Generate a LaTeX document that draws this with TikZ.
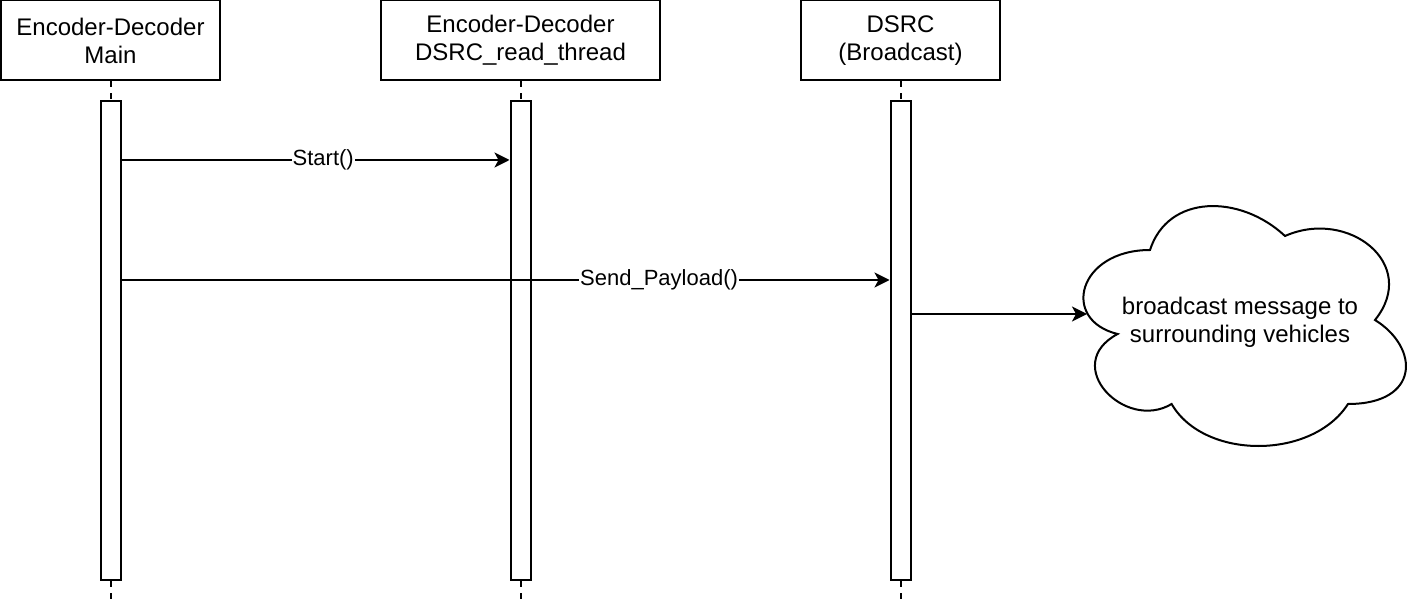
\documentclass[tikz,border=0pt]{standalone}
\usepackage{fontspec}
\setmainfont{Liberation Sans}
\usetikzlibrary{arrows.meta}
\tikzset{
  head/.style={draw,line width=2pt,fill=white,minimum height=80pt,align=center,
    font=\fontsize{24}{28}\selectfont},
  bar/.style={draw,line width=2pt,fill=white,minimum width=20pt,minimum height=479pt,inner sep=0pt},
  life/.style={line width=2pt,dash pattern=on 6pt off 6pt},
  msg/.style={line width=2pt,-{Stealth[length=15pt,width=15pt,inset=4pt]}},
  lbl/.style={fill=white,inner sep=1pt,font=\fontsize{22}{26}\selectfont},
  cloudtext/.style={align=center,font=\fontsize{24}{28}\selectfont}
}
\begin{document}
\begin{tikzpicture}[x=1pt,y=-1pt]
    \useasboundingbox (0,0) rectangle (1424,609);

    \node[head,minimum width=219pt] (main) at (110.5,40.5) {Encoder-Decoder\\Main};
    \node[head,minimum width=279pt] (reader) at (520.5,40.5) {Encoder-Decoder\\DSRC\_read\_thread};
    \node[head,minimum width=199pt] (dsrc) at (900.5,40.5) {DSRC\\(Broadcast)};

    \coordinate (mainend) at (110.5,601);
    \coordinate (readerend) at (520.5,601);
    \coordinate (dsrcend) at (900.5,601);

    \node[bar] (mainbar) at (110.5,340.5) {};
    \node[bar] (readerbar) at (520.5,340.5) {};
    \node[bar] (dsrcbar) at (900.5,340.5) {};

    \draw[life] (main) -- (mainbar);
    \draw[life] (mainbar) -- (mainend);
    \draw[life] (reader) -- (readerbar);
    \draw[life] (readerbar) -- (readerend);
    \draw[life] (dsrc) -- (dsrcbar);
    \draw[life] (dsrcbar) -- (dsrcend);

    \draw[line width=2pt,fill=white] (1150,250)
        .. controls (1078,250) and (1060,320) .. (1117.6,334)
        .. controls (1060,364.8) and (1124.8,432) .. (1171.6,404)
        .. controls (1204,460) and (1312,460) .. (1348,404)
        .. controls (1420,404) and (1420,348) .. (1375,320)
        .. controls (1420,264) and (1348,208) .. (1285,236)
        .. controls (1240,194) and (1168,194) .. (1150,250) -- cycle;
    \node[cloudtext] (cloud) at (1240,322) {broadcast message to\\surrounding vehicles};
    \coordinate (cloudin) at (1087,314);

    \coordinate (ystart) at (0,160);
    \coordinate (ysend) at (0,280);
    \coordinate (ycast) at (0,314);

    \draw[msg] (mainbar.east |- ystart) -- node[lbl,pos=0.52] {Start()} (readerbar.west |- ystart);
    \draw[msg] (mainbar.east |- ysend) -- node[lbl,pos=0.7] {Send\_Payload()} (dsrcbar.west |- ysend);
    \draw[msg] (dsrcbar.east |- ycast) -- (cloudin);
\end{tikzpicture}
\end{document}
